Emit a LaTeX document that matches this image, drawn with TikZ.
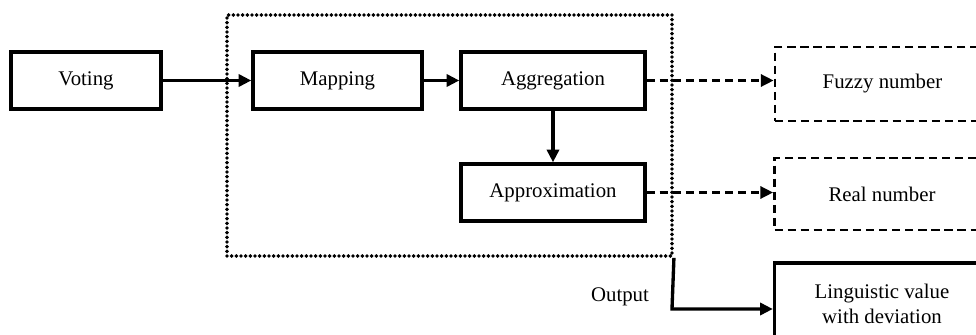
\documentclass[tikz,border=0pt]{standalone}
\usepackage{fontspec}
\setmainfont{Liberation Serif}
\usetikzlibrary{arrows.meta}
\begin{document}
\begin{tikzpicture}[x=0.75pt,y=-0.75pt,
  font=\fontsize{15.6pt}{18.5pt}\selectfont,
  stage/.style={draw, line width=2.5pt, rectangle, inner sep=0pt, align=center},
  result/.style={draw, line width=2.1pt, dash pattern=on 6.2pt off 3.6pt, rectangle, inner sep=0pt, align=center},
  flow/.style={line width=2.5pt, -{Triangle[length=9.5pt,width=9pt]}},
  dflow/.style={line width=2.1pt, dash pattern=on 6.2pt off 3.6pt, -{Triangle[length=9.5pt,width=9pt]}},
  frame/.style={draw, line width=2.9pt, line cap=round, dash pattern=on 0pt off 3.5pt, rectangle, inner sep=0pt}]
\useasboundingbox (0,0) rectangle (976,335);

% processing core (dotted frame)
\node[frame, minimum width=445*0.75pt, minimum height=241*0.75pt] (core) at (449.5,135.5) {};

% stages
\node[stage, minimum width=150*0.75pt, minimum height=57*0.75pt] (vote) at (86,80.5) {Voting};
\node[stage, minimum width=169*0.75pt, minimum height=57*0.75pt] (map) at (337.5,80.5) {Mapping};
\node[stage, minimum width=184*0.75pt, minimum height=57*0.75pt] (agg) at (553,80.5) {Aggregation};
\node[stage, minimum width=184*0.75pt, minimum height=57*0.75pt] (approx) at (553,192.5) {Approximation};

% results
\node[result, minimum width=215*0.75pt, minimum height=74*0.75pt] (fuzzy) at (882.5,84) {Fuzzy number};
\node[result, minimum width=215*0.75pt, minimum height=72*0.75pt] (real) at (882,194) {Real number};
\node[stage, minimum width=215*0.75pt, minimum height=82*0.75pt] (ling) at (882,304) {Linguistic value\\with deviation};

% output path
\coordinate (outtop) at (core.south east);
\coordinate (outbend) at (672,309);
\node (outlbl) at (620,297) {Output};

% connectors
\draw[flow] (vote.east) -- (map.west);
\draw[flow] (map.east) -- (agg.west);
\draw[flow] (agg.south) -- (approx.north);
\draw[dflow] (agg.east) -- (agg.east -| fuzzy.west);
\draw[dflow] (approx.east) -- (approx.east -| real.west);
\draw[flow] (outtop) -- (outbend) -- (outbend -| ling.west);
\end{tikzpicture}
\end{document}
